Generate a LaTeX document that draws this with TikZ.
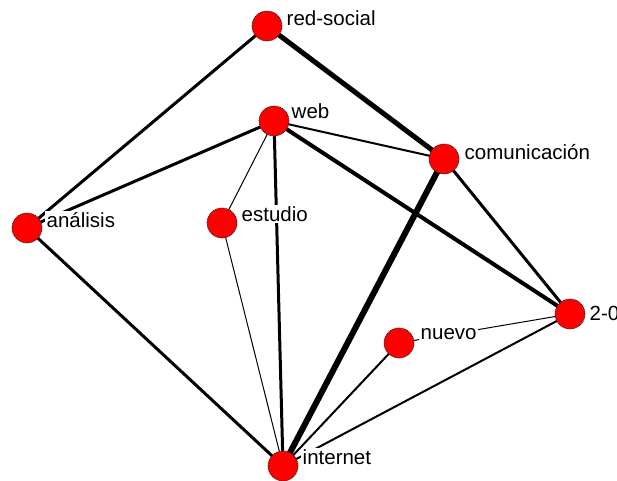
\documentclass[tikz,border=0pt]{standalone}
\usepackage{fontspec}
\setmainfont{Liberation Sans}
\usetikzlibrary{calc}
\begin{document}
\begin{tikzpicture}[x=1pt,y=-1pt,
  vertex/.style={circle,fill=red,draw=black!85,line width=0.7pt,
    dash pattern=on 1.2pt off 0.8pt,minimum size=30pt,inner sep=0pt},
  tag/.style={anchor=west,fill=white,inner sep=1.5pt,
    font=\fontsize{20.5}{22}\selectfont},
  thin edge/.style={line width=1pt},
  light edge/.style={line width=2pt},
  mid edge/.style={line width=3pt},
  heavy edge/.style={line width=4pt},
  bold edge/.style={line width=5pt},
  max edge/.style={line width=6pt}]
\useasboundingbox (0,0) rectangle (617,480);
\clip (0,0) rectangle (617,480);

% vertices
\coordinate (rs) at (267,26);
\coordinate (we) at (274,121);
\coordinate (co) at (444,159);
\coordinate (an) at (27,228);
\coordinate (es) at (222,223);
\coordinate (dc) at (570,314);
\coordinate (nu) at (399,343);
\coordinate (in) at (283,466);

% edges
\draw[mid edge] (rs) -- (an);
\draw[bold edge] (rs) -- (co);
\draw[mid edge] (we) -- (an);
\draw[light edge] (we) -- (co);
\draw[thin edge] (we) -- (es);
\draw[mid edge] (we) -- (in);
\draw[heavy edge] (we) -- (dc);
\draw[thin edge] (es) -- (in);
\draw[max edge] (co) -- (in);
\draw[mid edge] (co) -- (dc);
\draw[mid edge] (an) -- (in);
\draw[light edge] (nu) -- (in);
\draw[thin edge] (nu) -- (dc);
\draw[light edge] (dc) -- (in);

% circles
\foreach \v in {rs,we,co,an,es,dc,nu,in}
  \node[vertex] (c\v) at (\v) {};

% labels
\node[tag] (lrs) at ($(rs)+(18,-8)$) {red-social};
\node[tag] (lwe) at ($(we)+(16,-10)$) {web};
\node[tag] (lco) at ($(co)+(19,-7)$) {comunicación};
\node[tag] (lan) at ($(an)+(18,-8)$) {análisis};
\node[tag] (les) at ($(es)+(18,-9)$) {estudio};
\node[tag] (ldc) at ($(dc)+(18,-1)$) {2-0};
\node[tag] (lnu) at ($(nu)+(20,-9)$) {nuevo};
\node[tag] (lin) at ($(in)+(18,-9)$) {internet};
\end{tikzpicture}
\end{document}
